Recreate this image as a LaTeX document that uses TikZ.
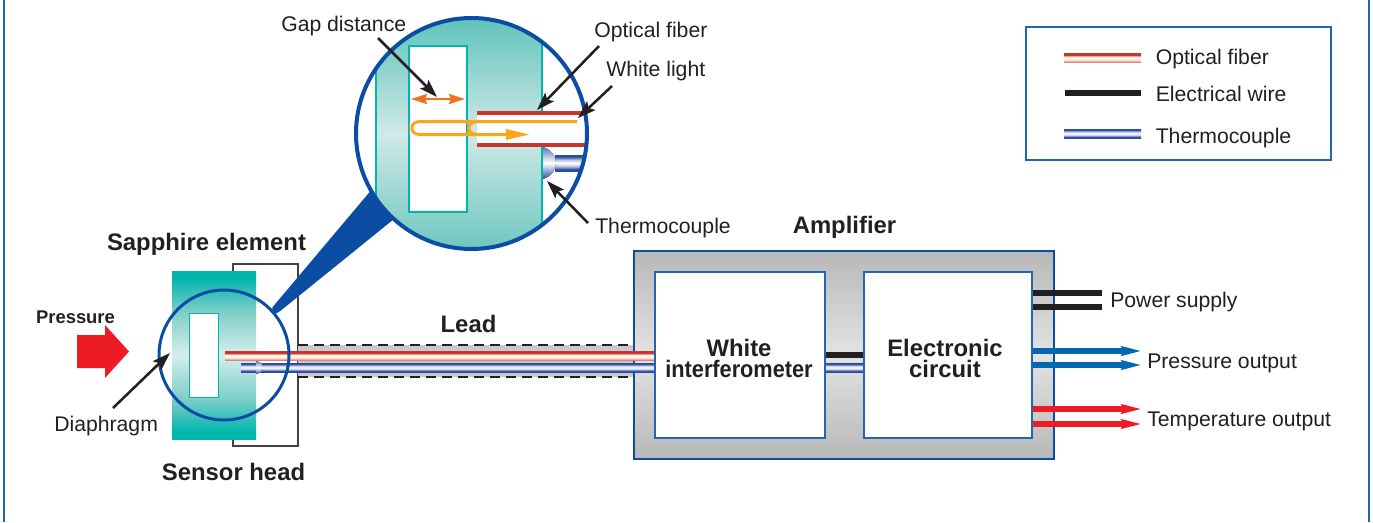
\documentclass[tikz,border=0pt]{standalone}
\usepackage{fontspec}
\usepackage{graphicx}
\setmainfont{Liberation Sans}
\usetikzlibrary{arrows.meta}
\definecolor{ablue}{HTML}{0A4DA2}
\definecolor{bblue}{HTML}{1F66B5}
\definecolor{oblue}{HTML}{0067B1}
\definecolor{oreds}{HTML}{ED1C24}
\definecolor{tealc}{HTML}{00B5AD}
\definecolor{ink}{HTML}{231F20}
\definecolor{orangeA}{HTML}{F36F21}
\definecolor{orangeB}{HTML}{FAA61A}
\definecolor{fibred}{HTML}{C8372D}
\definecolor{leadgrey}{HTML}{C8C9CB}
\definecolor{tcdark}{HTML}{2A4B9F}
\definecolor{tcpale}{HTML}{C9CDE8}
\definecolor{fbsalmon}{HTML}{E2866A}
\definecolor{fbpale}{HTML}{F8DCCF}
\definecolor{tbA}{HTML}{5FC3BC}
\definecolor{tbB}{HTML}{CFE9E6}
\definecolor{tbC}{HTML}{6FC7C0}
\definecolor{tsB}{HTML}{D5EEEC}
\definecolor{tsM}{HTML}{7CCEC8}
\pgfdeclareverticalshading{fibershade}{100bp}{color(0bp)=(fbsalmon);color(25bp)=(fbsalmon);color(36bp)=(fbpale);color(46bp)=(white);color(56bp)=(fbpale);color(63bp)=(fibred);color(100bp)=(fibred)}
\pgfdeclareverticalshading{thermoshade}{100bp}{color(0bp)=(tcdark);color(30bp)=(tcdark);color(41bp)=(tcpale);color(50bp)=(white);color(59bp)=(tcpale);color(70bp)=(tcdark);color(100bp)=(tcdark)}
\pgfdeclareverticalshading{domeshade}{100bp}{color(0bp)=(tcdark);color(25bp)=(tcdark);color(50bp)=(white);color(75bp)=(tcdark!75!white);color(100bp)=(tcdark!75!white)}
\pgfdeclareverticalshading{tealbig}{100bp}{color(0bp)=(tbC);color(25bp)=(tbC);color(50bp)=(tbB);color(75bp)=(tbA);color(100bp)=(tbA)}
\pgfdeclareverticalshading{tealsmall}{100bp}{color(0bp)=(tealc);color(27bp)=(tealc);color(37bp)=(tsM);color(50bp)=(tsB);color(63bp)=(tsM);color(73bp)=(tealc);color(100bp)=(tealc)}
\pgfdeclareverticalshading{ampgrey}{100bp}{color(0bp)=(black!28);color(25bp)=(black!28);color(50bp)=(black!11);color(75bp)=(black!28);color(100bp)=(black!28)}
\newdimen\px \px=0.75pt
\tikzset{
  txt/.style={font=\fontsize{15.9}{18}\selectfont,text=ink,inner sep=0pt,anchor=base west},
  btxt/.style={font=\fontsize{17.9}{21}\bfseries\selectfont,text=ink,inner sep=0pt,anchor=base},
  leader/.style={draw=ink,line width=1.9pt,-{Stealth[length=13.5pt,width=9pt,inset=2.6pt]}},
  wire/.style={draw=ink,line width=4.5pt},
  outblue/.style={draw=oblue,line width=4.5pt,-{Stealth[length=15pt,width=6.6pt,inset=1.5pt]}},
  outred/.style={draw=oreds,line width=4.5pt,-{Stealth[length=15pt,width=6.6pt,inset=1.5pt]}},
  innerbox/.style={draw=bblue,fill=white,line width=2\px,minimum width=170\px,minimum height=166\px,inner sep=0pt},
  fibrerect/.style={shading=fibershade},
  thermorect/.style={shading=thermoshade},
  domerect/.style={shading=domeshade},
  ampfont/.style={font=\fontsize{17.9}{15.7}\bfseries\selectfont,text=ink,align=center,inner sep=0pt},
}
\begin{document}
\begin{tikzpicture}[x=0.75pt,y=-0.75pt]
\useasboundingbox (0,0) rectangle (1373,522);
% page rules
\draw[bblue,line width=2\px] (4,0) -- (4,522);
\draw[bblue,line width=2\px] (1369,0) -- (1369,522);
% legend
\node[draw=bblue,line width=2\px,minimum width=305\px,minimum height=133\px,inner sep=0pt] (legend) at (1178.5,93.5) {};
\fill[fibrerect] (1064,53) rectangle (1141,62);
\fill[ink] (1065,90) rectangle (1141,96);
\fill[thermorect] (1064,129) rectangle (1141,138);
\node[txt] (lgf) at (1155.5,64) {Optical fiber};
\node[txt] (lge) at (1155.5,101) {Electrical wire};
\node[txt] (lgt) at (1155.5,143) {Thermocouple};
% sensor head
\draw[draw=ink!85,line width=2\px,fill=white] (233,264) rectangle (298,446);
\fill[shading=tealsmall] (172,271) rectangle (256,439);
\draw[tealc,fill=white,line width=1\px] (189,313) rectangle (218,397);
% lead
\fill[leadgrey] (298,345) rectangle (635,377);
\draw[ink,line width=1.5\px,dash pattern=on 10\px off 6\px] (298,345) -- (635,345);
\draw[ink,line width=1.5\px,dash pattern=on 10\px off 6\px] (298,377) -- (635,377);
% amplifier
\node[draw=ablue,line width=2.5\px,shading=ampgrey,minimum width=420\px,minimum height=208\px,inner sep=0pt] (amp) at (844,355) {};
% cables
\fill[fibrerect] (225,351) rectangle (655,360);
\fill[thermorect] (241,363) rectangle (655,372);
\fill[domerect] (256,361) .. controls (261,362) and (263,365) .. (263,367.5) .. controls (263,370) and (261,373) .. (256,374) -- cycle;
\fill[thermorect] (825,363) rectangle (864,372);
\fill[ink] (825,352) rectangle (864,358);
% inner boxes
\node[innerbox] (wi) at (740,355) {};
\node[innerbox,minimum width=168\px] (ec) at (948,355) {};
\node[ampfont] (wit) at (739,358.5) {White\\\scalebox{.91}[1]{interferometer}};
\node[ampfont] (ect) at (945,358) {Electronic\\circuit};
% output lines
\coordinate (ps1) at (1102,293);
\coordinate (ps2) at (1102,307);
\coordinate (po1) at (1142,351);
\coordinate (po2) at (1142,365);
\coordinate (to1) at (1142,409);
\coordinate (to2) at (1142,424);
\draw[wire] (ec.east |- ps1) -- (ps1);
\draw[wire] (ec.east |- ps2) -- (ps2);
\draw[outblue] (ec.east |- po1) -- (po1);
\draw[outblue] (ec.east |- po2) -- (po2);
\draw[outred] (ec.east |- to1) -- (to1);
\draw[outred] (ec.east |- to2) -- (to2);
% small circle
\node[circle,draw=ablue,line width=3\px,minimum size=130\px,inner sep=0pt] (small) at (224,355) {};
% taper
\fill[ablue,rounded corners=2\px] (373,188) -- (271,309) -- (275,314) -- (279,312) -- (394,219) -- cycle;
% magnified circle
\fill[white] (471.5,133.5) circle[radius=115.5];
\begin{scope}
\clip (471.5,133.5) circle[radius=115.5];
\fill[shading=tealbig] (376,18) rectangle (542,249);
\draw[tealc,line width=2\px] (376,18) -- (376,249);
\draw[tealc,line width=2\px] (542,18) -- (542,249);
\draw[tealc,fill=white,line width=2\px] (409,46) rectangle (467,212);
\fill[white] (477,113) rectangle (590,145);
\fill[fibred] (477,111) rectangle (590,115);
\fill[fibred] (477,143) rectangle (590,147);
\fill[thermorect] (555,155) rectangle (590,171);
\fill[domerect] (543,147) .. controls (552,150) and (556,157) .. (556,163) .. controls (556,169) and (552,176) .. (543,179) -- cycle;
\end{scope}
\draw[black!40,line width=1\px] (409,123) -- (409,133);
\draw[black!40,line width=1\px] (467,123) -- (467,133);
\coordinate (gapL) at (411,99);
\coordinate (gapR) at (465,99);
\draw[orangeA,line width=1.8pt,{Stealth[length=12pt,width=7.5pt,inset=1.5pt]}-{Stealth[length=12pt,width=7.5pt,inset=1.5pt]}] (gapL) -- (gapR);
\coordinate (wlStart) at (577,121.5);
\coordinate (wlEnd) at (530,134.5);
\draw[orangeB,line width=2.25pt,-{Stealth[length=18pt,width=7.5pt,inset=0pt]}] (wlStart) -- (420,121.5) .. controls (409,121.5) and (409,134.5) .. (420,134.5) -- (wlEnd);
\draw[orangeB,line width=2.25pt] (477,121.5) .. controls (466,122) and (466,134) .. (477,134.5);
\node[circle,draw=ablue,line width=4\px,minimum size=231\px,inner sep=0pt] (big) at (471.5,133.5) {};
% pressure arrow
\fill[oreds] (77,335) -- (105,335) -- (105,325) -- (129,351.5) -- (105,378) -- (105,368) -- (77,368) -- cycle;
% labels
\node[txt] (lgap) at (281,31) {Gap distance};
\node[txt] (lof) at (594,37) {Optical fiber};
\node[txt] (lwl) at (606,76) {White light};
\node[txt] (ltc) at (595,233) {Thermocouple};
\node[txt] (ldi) at (54,431) {Diaphragm};
\node[txt] (lps) at (1110,307) {Power supply};
\node[txt] (lpo) at (1147,368) {Pressure output};
\node[txt] (lto) at (1147,426) {Temperature output};
\node[btxt] (lamp) at (844.5,233) {Amplifier};
\node[btxt] (lsap) at (206.5,250) {Sapphire element};
\node[btxt] (lsh) at (233.5,480) {Sensor head};
\node[btxt] (llead) at (468.5,332) {Lead};
\node[btxt,font=\fontsize{13.8}{16}\bfseries\selectfont] (lpr) at (75.5,323) {Pressure};
% leaders
\coordinate (a1) at (378,38);  \coordinate (a1t) at (437,97);
\coordinate (a2) at (599,46);  \coordinate (a2t) at (537,110);
\coordinate (a3) at (612,86);  \coordinate (a3t) at (578,118);
\coordinate (a4) at (588,223); \coordinate (a4t) at (547,181);
\coordinate (a5) at (113,408); \coordinate (a5t) at (170,353);
\draw[leader] (a1) -- (a1t);
\draw[leader] (a2) -- (a2t);
\draw[leader] (a3) -- (a3t);
\draw[leader] (a4) -- (a4t);
\draw[leader] (a5) -- (a5t);
\end{tikzpicture}
\end{document}
